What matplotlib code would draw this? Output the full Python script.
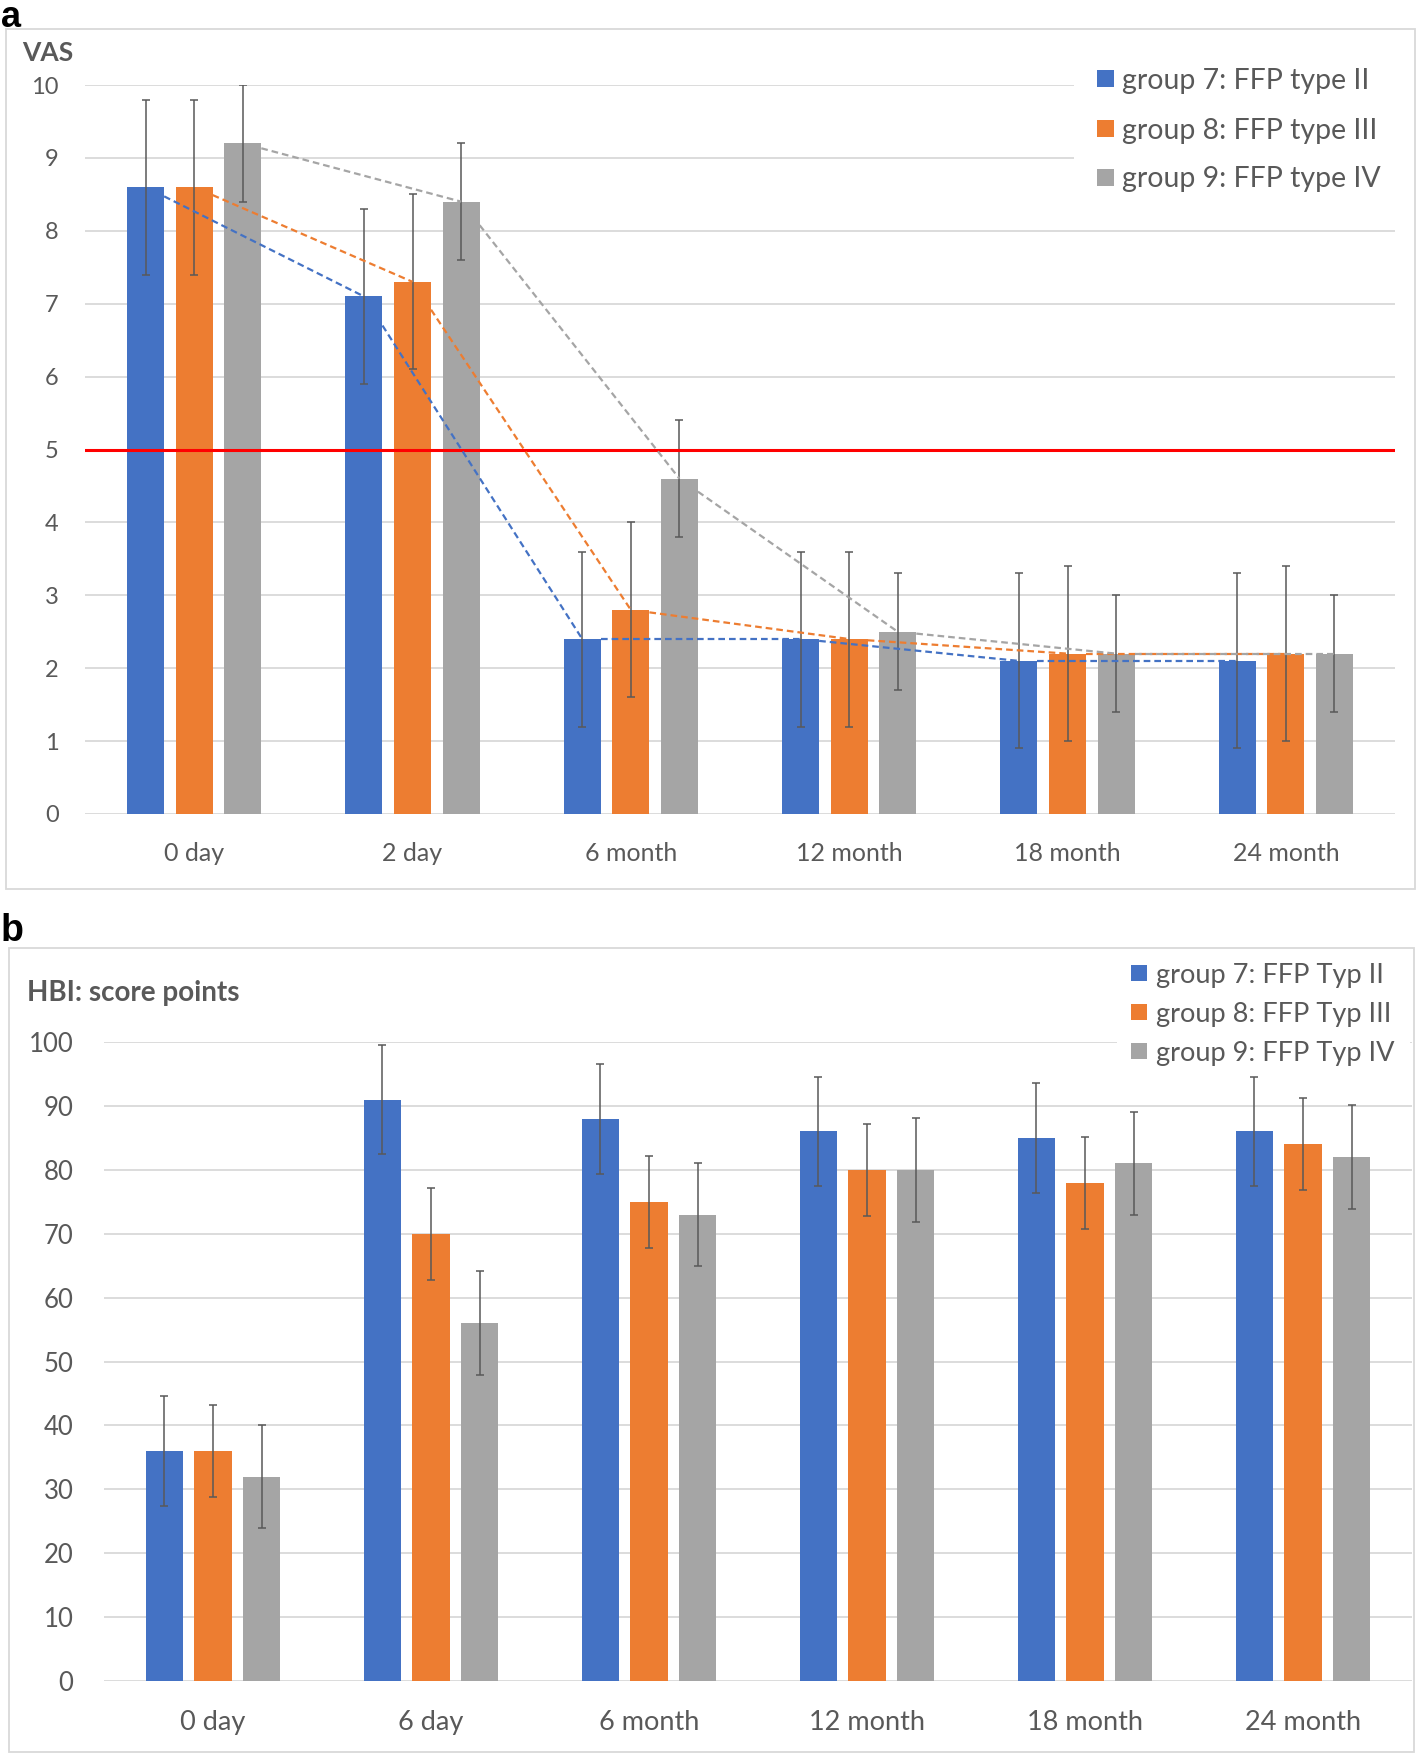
import matplotlib
matplotlib.use('Agg')
import matplotlib.pyplot as plt
import numpy as np
from matplotlib.patches import Rectangle

# ---------------- data ----------------
vas_categories = ['0 day', '2 day', '6 month', '12 month', '18 month', '24 month']
vas_group7 = [8.6, 7.1, 2.4, 2.4, 2.1, 2.1]
vas_group8 = [8.6, 7.3, 2.8, 2.4, 2.2, 2.2]
vas_group9 = [9.2, 8.4, 4.6, 2.5, 2.2, 2.2]
vas_err7 = [1.2, 1.2, 1.2, 1.2, 1.2, 1.2]
vas_err8 = [1.2, 1.2, 1.2, 1.2, 1.2, 1.2]
vas_err9 = [0.8, 0.8, 0.8, 0.8, 0.8, 0.8]
vas_threshold = 5
vas_labels = ['group 7: FFP type II', 'group 8: FFP type III', 'group 9: FFP type IV']
vas_yticks = [0, 1, 2, 3, 4, 5, 6, 7, 8, 9, 10]

hbi_categories = ['0 day', '6 day', '6 month', '12 month', '18 month', '24 month']
hbi_group7 = [36, 91, 88, 86, 85, 86]
hbi_group8 = [36, 70, 75, 80, 78, 84]
hbi_group9 = [32, 56, 73, 80, 81, 82]
hbi_err7 = [8.6, 8.6, 8.6, 8.6, 8.6, 8.6]
hbi_err8 = [7.2, 7.2, 7.2, 7.2, 7.2, 7.2]
hbi_err9 = [8.1, 8.1, 8.1, 8.1, 8.1, 8.1]
hbi_labels = ['group 7: FFP Typ II', 'group 8: FFP Typ III', 'group 9: FFP Typ IV']
hbi_yticks = [0, 10, 20, 30, 40, 50, 60, 70, 80, 90, 100]

# ---------------- style ----------------
W, H, DPI = 1416, 1754, 100
COLORS = ['#4472C4', '#ED7D31', '#A5A5A5']
TXT = '#595959'
GRID = '#D9D9D9'
FONT = 'Lato'
plt.rcParams['font.family'] = [FONT, 'DejaVu Sans']

fig = plt.figure(figsize=(W / DPI, H / DPI), dpi=DPI)


def fx(px):
    return px / W


def fy(py):
    return 1 - py / H


def frame(x0, y0, x1, y1):
    fig.patches.append(Rectangle((fx(x0), fy(y1)), (x1 - x0) / W, (y1 - y0) / H,
                                 transform=fig.transFigure, fill=False,
                                 edgecolor=GRID, lw=1.3, zorder=0))


def legend(labels, sq_x, sq_size, txt_x, row_y, bg, fs):
    bx0, by0, bx1, by1 = bg
    fig.patches.append(Rectangle((fx(bx0), fy(by1)), (bx1 - bx0) / W, (by1 - by0) / H,
                                 transform=fig.transFigure, facecolor='white',
                                 edgecolor='none', zorder=2))
    for lab, col, yc in zip(labels, COLORS, row_y):
        fig.patches.append(Rectangle((fx(sq_x), fy(yc + sq_size / 2)), sq_size / W, sq_size / H,
                                     transform=fig.transFigure, facecolor=col,
                                     edgecolor='none', zorder=3))
        fig.text(fx(txt_x), fy(yc), lab, ha='left', va='center_baseline', fontsize=fs,
                 color=TXT, zorder=3)


def panel(ax, cats, series, errs, yticks, width, step, ytick_fs, xtick_fs, ypad, xpad):
    x = np.arange(len(cats))
    for k, (vals, err, col) in enumerate(zip(series, errs, COLORS)):
        ax.bar(x + (k - 1) * step, vals, width, color=col, zorder=3,
               yerr=err, error_kw=dict(ecolor=TXT, elinewidth=1.1, capsize=3,
                                       capthick=1.1, zorder=4))
    ax.set_xlim(-0.5, len(cats) - 0.5)
    ax.set_ylim(yticks[0], yticks[-1])
    ax.set_yticks(yticks)
    ax.set_xticks(x)
    ax.set_xticklabels(cats)
    ax.yaxis.grid(True, color=GRID, lw=1.3)
    ax.set_axisbelow(True)
    for s in ax.spines.values():
        s.set_visible(False)
    ax.tick_params(axis='both', length=0, labelcolor=TXT)
    ax.tick_params(axis='y', pad=ypad, labelsize=ytick_fs)
    ax.tick_params(axis='x', pad=xpad, labelsize=xtick_fs)
    return x


# ---------------- panel a ----------------
frame(6, 29, 1415, 889)
ax1 = fig.add_axes([fx(85), fy(814), (1395 - 85) / W, (814 - 85) / H])
a_series = [vas_group7, vas_group8, vas_group9]
a_errs = [vas_err7, vas_err8, vas_err9]
wa, sa = 0.17, 0.2225
xa = panel(ax1, vas_categories, a_series, a_errs, vas_yticks, wa, sa, 17, 18, 19, 20)
ax1.axhline(vas_threshold, color='#FF0000', lw=2.2, zorder=5)
# dashed connecting lines (hidden inside own bar)
for k, (vals, col) in enumerate(zip(a_series, COLORS)):
    xc = xa + (k - 1) * sa
    for i in range(len(vals) - 1):
        slope = (vals[i + 1] - vals[i]) / (xc[i + 1] - xc[i])
        x0 = xc[i] + wa / 2
        y0 = vals[i] + slope * (wa / 2)
        ax1.plot([x0, xc[i + 1]], [y0, vals[i + 1]], color=col, lw=1.6,
                 linestyle=(0, (3, 1.8)), zorder=6, solid_capstyle='butt')
fig.text(fx(22), fy(53), 'VAS', ha='left', va='center', fontsize=19,
         fontweight='bold', color=TXT)
legend(vas_labels, 1097, 17, 1122, [78, 128, 177], (1074, 45, 1405, 205), 20.5)
fig.text(fx(1), fy(27), 'a', ha='left', va='baseline', fontsize=26,
         fontweight='bold', family='Liberation Sans', color='black')

# ---------------- panel b ----------------
frame(9, 948, 1414, 1752)
ax2 = fig.add_axes([fx(104), fy(1681), (1412 - 104) / W, (1681 - 1042) / H])
b_series = [hbi_group7, hbi_group8, hbi_group9]
b_errs = [hbi_err7, hbi_err8, hbi_err9]
panel(ax2, hbi_categories, b_series, b_errs, hbi_yticks, 0.174, 0.2225, 18.5, 19.5, 22, 21)
fig.text(fx(27), fy(993), 'HBI: score points', ha='left', va='center', fontsize=20,
         fontweight='bold', color=TXT)
legend(hbi_labels, 1131, 16, 1156, [973, 1012, 1051], (1117, 952, 1410, 1068), 19.5)
fig.text(fx(1), fy(941), 'b', ha='left', va='baseline', fontsize=27,
         fontweight='bold', family='Liberation Sans', color='black')

fig.savefig('out.png', dpi=DPI)
